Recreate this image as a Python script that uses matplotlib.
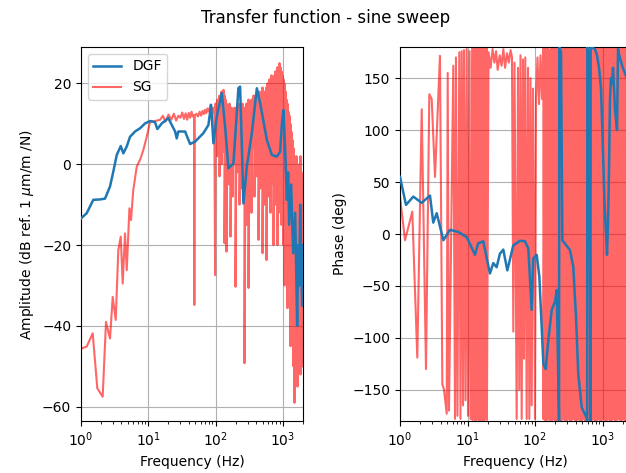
import numpy as np
import matplotlib
matplotlib.use("Agg")
import matplotlib.pyplot as plt

# DGF amplitude (dB ref. 1 um/m /N)
dgf_amp_freq = [1.0, 1.216, 1.524, 1.918, 2.276, 2.70, 3.025, 3.40, 3.90, 4.26, 4.79,
                5.36, 6.36, 7.55, 8.96, 10.64, 12.6, 13.65, 15.9, 19.9, 22.4, 25.1,
                26.5, 28.0, 35.3, 41.9, 49.7, 66.1, 78.4, 86.0, 93.1, 104.5, 124, 139,
                155.6, 184.7, 219, 232, 246, 260, 292, 347, 412, 461, 580, 689, 817,
                915, 970, 1024, 1086, 1151, 1203, 1245, 1333, 1428, 1530, 1638, 1696,
                1755, 1816, 1880, 1945, 2000]
dgf_amp_db = [-13.4, -12.1, -8.8, -8.7, -8.5, -5.5, -1.8, 2.3, 4.5, 2.7, 4.4,
              6.8, 8.1, 8.9, 10.1, 10.7, 10.4, 8.7, 10.1, 11.4, 9.7, 8.1,
              6.4, 8.1, 8.1, 5.0, 5.6, 7.7, 9.7, 14.7, 5.2, 11.8, 17.6, 9.3,
              -1.0, 0.2, 18.8, 19.2, 5.0, -9.7, -0.6, 7.7, 18.8, 15.1, 6.0, 2.3, 1.9,
              3.1, 10.1, 13.4, 3.5, -8.8, -2.0, -15.0, -5.0, -22.0, -12.0, -40.0, -20.0,
              -30.0, -10.0, -25.0, -35.0, -20.0]

# SG amplitude, low frequency part
sg_amp_freq = [1.0, 1.216, 1.493, 1.747, 2.10, 2.354, 2.70, 2.96, 3.28, 3.59, 3.90,
               4.17, 4.51, 4.79, 5.25, 5.54, 5.99, 6.74, 7.55, 8.44, 9.50, 10.64,
               12.6, 15.0, 16.5, 18, 20, 22, 24, 26, 28, 30, 32, 34, 36, 38, 40, 42,
               44, 46, 48, 48.5, 49, 52, 55, 58, 61, 64, 67, 70, 73, 76, 80, 84, 88,
               92, 96, 98.6]
sg_amp_db = [-45.6, -45.1, -41.8, -55.4, -57.5, -39.0, -43.1, -32.8, -38.5, -21.2, -17.9,
             -29.5, -17.1, -26.2, -10.9, -13.8, -6.4, -0.6, 1.1, 3.5, 6.8, 10.5,
             10.7, 11.0, 12.0, 10.5, 12.3, 11.0, 12.5, 10.8, 12.0, 11.5, 12.8, 11.2, 12.6,
             11.0, 12.7, 11.5, 13.0, 11.8, 12.2, -34.8, 12.0, 12.5, 11.8, 13.0, 12.0, 13.2,
             12.4, 13.5, 12.6, 13.8, 13.0, 14.7, 12.0, 14.0, 13.0, -27.4]

# SG amplitude, noisy part above 100 Hz: upper and lower swing at each frequency
sg_noise_freq = [100, 103.5, 107.1, 110.8, 114.7, 118.7, 122.8, 127.1, 131.5, 136.1,
                 140.8, 145.7, 150.8, 156.1, 161.5, 167.1, 172.9, 178.9, 185.2, 191.6,
                 198.3, 205.2, 212.3, 219.7, 227.4, 235.3, 243.5, 252.0, 260.7, 269.8,
                 279.2, 288.9, 299.0, 309.4, 320.2, 331.3, 342.8, 354.8, 367.1, 379.9,
                 393.1, 406.8, 421.0, 435.6, 450.8, 466.5, 482.7, 499.5, 516.9, 534.9,
                 553.5, 572.8, 592.7, 613.4, 634.7, 656.8, 679.7, 703.4, 727.9, 753.2,
                 779.4, 806.6, 834.6, 863.7, 893.8, 924.9, 957.1, 990.5, 1025, 1061,
                 1098, 1136, 1175, 1216, 1259, 1302, 1348, 1395, 1443, 1494,
                 1546, 1599, 1655, 1713, 1772, 1834, 1898, 1964, 2000]
sg_noise_hi = [15, 13, 16, 14, 17, 15, 18, 16, 18.4, 17,
               16, 15, 14, 13, 15, 12, 14, 12, 13, 14,
               12, 14, 13, 15, 13, 14, 12, 15, 13, 14,
               12, 15, 14, 16, 14, 15, 16, 15, 17, 16,
               17, 16, 18, 17, 18, 16, 17, 19, 18, 17,
               18, 19, 20, 19, 21, 20, 22, 21, 21, 22,
               23, 22, 24, 23, 25, 24, 23, 22, 21, 20,
               18, 16, 15, 13, 12, 10, 8, 6, 4, 2,
               0, 2, -1, -3, 0, 2, -2, -4, -5]
sg_noise_lo = [5, 8, 2, 6, -3, 4, 0, 7, 3, -19.5,
               2, -21.6, 4, -5, 3, -17.9, 1, -8, 4, 0,
               -30.3, 2, -2, 3, -10, 0, -6, 2, -4, -49.2,
               1, -15, 0, -30.6, 3, 0, -12, 4, 5, -8,
               2, -3, 4, -18.7, 0, -6, 3, -22, -2, -10,
               2, -23.7, -3, -8, 0, -12, -5, -2, -20, -6,
               -10, -3, -20, -5, -4, -12, -15, -8, -20, -30,
               -25, -18, -35.6, -20, -30, -45, -28, -40, -50, -59,
               -45, -50, -55, -40, -48, -52, -35, -50, -45]

# DGF phase (deg)
dgf_ph_freq = [1.0, 1.227, 1.575, 2.096, 2.78, 3.11, 3.5, 4.39, 5.5, 7.3, 9.74, 12.9,
               14.4, 17.1, 21.5, 24.1, 27.0, 30.2, 33.9, 38.9, 47.7, 60, 71, 79.6, 89.3,
               94.4, 106, 116, 133, 144, 157, 177, 198, 210, 227, 229, 243, 254, 330,
               369, 405, 438, 492, 583, 593, 596, 631, 664, 667, 774, 829, 888, 951,
               1016, 1071, 1127, 1166, 1206, 1248, 1291, 1336, 1383, 1431, 1532, 1641,
               1698, 1800, 2000, 2300]
dgf_ph_deg = [55, 28, 36, 30, 37, 11, 20, -6, 4, 2, -3, -20,
              -9, -7, -38, -28, -32, -19, -15, -35, -11, -6.5, -7, -14, -73,
              -23.5, -20, -41, -125, -130, -103, -73, -65, -54, -180, 180, 175, -6, -15.5,
              -31.6, -80, -135, -167, -177, -180, 180, 170, -180, 180, 178, 172, 160, 140,
              80, 30, 0, -20, 10, 60, 130, 150, 145, 160, 120, 100,
              178, 170, 160, 150]

# SG phase, sparse part below ~11 Hz
sg_ph_freq = [1.0, 1.186, 1.521, 1.804, 2.097, 2.427, 2.718, 2.948, 3.30, 3.91, 4.24,
              4.49, 4.92, 5.09, 5.32, 6.16, 6.53, 6.74, 7.1, 7.56, 7.87, 8.20, 8.58,
              8.88, 9.34, 9.73, 10.18, 10.72, 11.1]
sg_ph_deg = [36, -6, 21.6, -119, 120, -130, 134.5, 130, 55, 171.6, -144.5,
             -150, -173, 155, -170, 162, -178, 170, -175, 175, -178, 176, -165,
             177, -160, 178, -175, 176, -178]

# SG phase, wrapping band 12-19 Hz
sg_band_freq = [11.9, 12.4, 12.9, 13.5, 14.0, 14.6, 15.2, 15.9, 16.5, 17.2, 17.9, 18.7, 19.4]
sg_band_hi = [179, 178, 179, 180, 178, 179, 180, 179, 178, 179, 180, 178, 179]
sg_band_lo = [-179, -178, -180, -179, -178, -179, -180, -178, -179, -180, -179, -178, -179]

# SG phase, 20-130 Hz
sg_mid_freq = [20.5, 22, 23.5, 25, 26.5, 28, 30, 32, 34, 36, 38.5, 41, 43.5,
               45.6, 47.7, 49.7, 53.5, 56.0, 58.5, 61.0, 63.5, 66.4, 68.7, 71.8, 75.3,
               78.8, 82.4, 85.8, 89.3, 93.4, 100, 103.5, 108.9, 114.6, 120.6, 127]
sg_mid_deg = [175, 160, 178, 165, 176, 158, 172, 162, 178, 160, 174, 165, 177,
              170, -94, 165, -178, 160, -150, 172, -178, 168, -120, 170, -178,
              160, -178, 150, -165, 140, -178, 130, 170, 125, 172, 130]

# SG phase, wrapping above 130 Hz
sg_dense_freq = [133, 140, 147, 155, 163, 172, 181, 190, 200, 211, 222, 233, 245, 258,
                 272, 286, 301, 317, 334, 351, 370, 389, 410, 431, 454, 478, 503, 529,
                 557, 586, 617, 649, 683, 719, 757, 797, 838, 882, 929, 977, 1029, 1083,
                 1140, 1199, 1262, 1329, 1398, 1472, 1549, 1630, 1716, 1806, 1901, 2000,
                 2105, 2216, 2330]
sg_dense_hi = [179, 178, 180, 179, 177, 179, 180, 178, 179, 180, 179, 178, 180, 179,
               178, 179, 180, 179, 178, 180, 179, 178, 179, 180, 178, 179, 180, 179,
               178, 179, 180, 179, 178, 180, 179, 178, 179, 180, 178, 179, 180, 179,
               178, 179, 180, 179, 178, 180, 179, 178, 179, 180, 178, 179, 180, 179, 178]
sg_dense_lo = [-178, -179, -180, -178, -179, -180, -179, -178, -180, -179, -178, -179,
               -180, -178, -179, -180, -179, -178, -180, -179, -178, -179, -180, -178,
               -179, -180, -179, -178, -180, -179, -178, -179, -180, -178, -179, -180,
               -179, -178, -180, -179, -178, -179, -180, -178, -179, -180, -179, -178,
               -180, -179, -178, -179, -180, -178, -179, -180, -179]


def zigzag(freq, hi, lo):
    """Noisy trace: swing from the high to the low value at each frequency."""
    f = np.repeat(freq, 2)
    v = np.column_stack([hi, lo]).ravel()
    return f, v


nf, nv = zigzag(sg_noise_freq, sg_noise_hi, sg_noise_lo)
sg_amp_f = np.concatenate([sg_amp_freq, nf])
sg_amp_v = np.concatenate([sg_amp_db, nv])

bf, bv = zigzag(sg_band_freq, sg_band_hi, sg_band_lo)
df, dv = zigzag(sg_dense_freq, sg_dense_hi, sg_dense_lo)
sg_ph_f = np.concatenate([sg_ph_freq, bf, sg_mid_freq, df])
sg_ph_v = np.concatenate([sg_ph_deg, bv, sg_mid_deg, dv])

fig = plt.figure(figsize=(6.26, 4.73), dpi=100)
fig.suptitle("Transfer function - sine sweep", x=0.52)

ax1 = fig.add_axes([81 / 626, 52 / 473, 222 / 626, 374 / 473])
ax2 = fig.add_axes([400 / 626, 52 / 473, 230 / 626, 374 / 473])

ax1.semilogx(dgf_amp_freq, dgf_amp_db, color="C0", lw=1.8, label="DGF", zorder=3)
ax1.semilogx(sg_amp_f, sg_amp_v, color="r", alpha=0.6, lw=1.5, label="SG")
ax1.set_xlim(1, 2000)
ax1.set_ylim(-63.5, 29)
ax1.set_xlabel("Frequency (Hz)")
ax1.set_ylabel(r"Amplitude (dB ref. 1 $\mu$m/m /N)")
ax1.grid(True)
ax1.legend(loc="upper left")

ax2.semilogx(dgf_ph_freq, dgf_ph_deg, color="C0", lw=1.8, zorder=3)
ax2.semilogx(sg_ph_f, sg_ph_v, color="r", alpha=0.6, lw=1.5)
ax2.set_xlim(1, 2555)
ax2.set_ylim(-180, 180)
ax2.set_xlabel("Frequency (Hz)")
ax2.set_ylabel("Phase (deg)")
ax2.grid(True)

fig.savefig("out.png", dpi=100)
